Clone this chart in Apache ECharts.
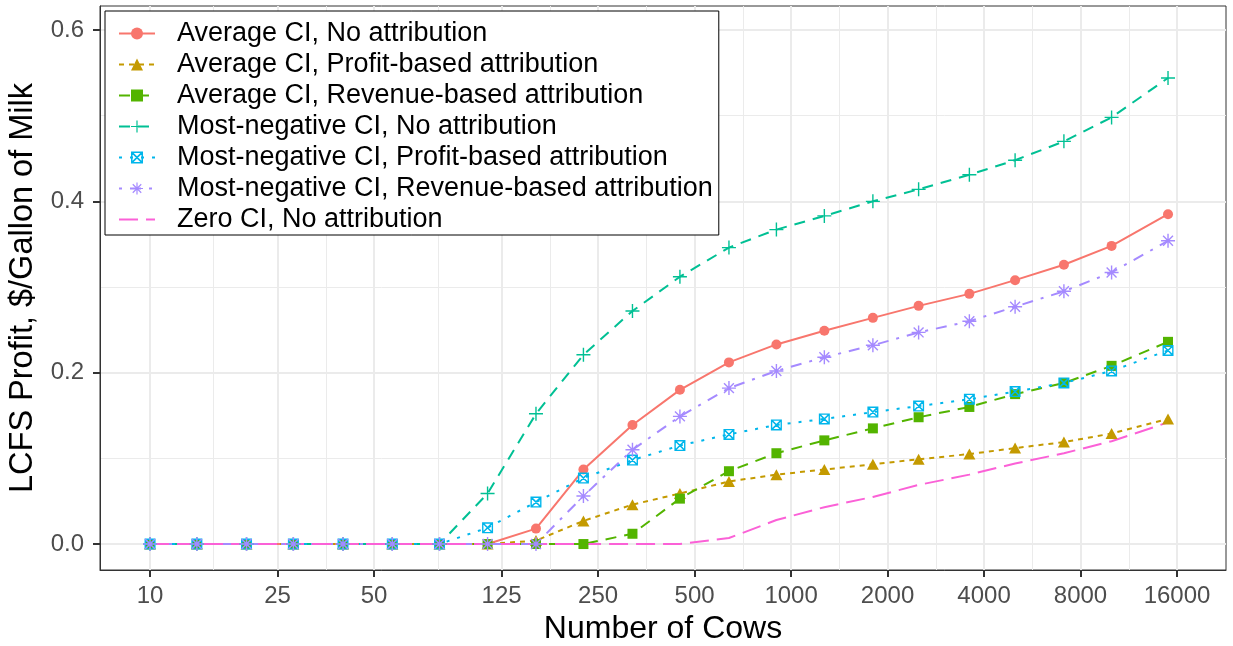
<!DOCTYPE html>
<html>
<head>
<meta charset="utf-8">
<title>LCFS Profit vs Number of Cows</title>
<script src="https://cdn.jsdelivr.net/npm/echarts@6.0.0/dist/echarts.min.js"></script>
<style>
  html, body { margin: 0; padding: 0; background: #fff; }
  #chart { width: 1233px; height: 646px; }
</style>
</head>
<body>
<div id="chart"></div>
<script>
// herd sizes on the log x axis
const cows = [10, 14, 20, 28, 40, 57, 80, 113, 160, 225, 320, 450, 640, 900, 1270, 1800, 2500, 3600, 5000, 7100, 10000, 15000];

// tick labels / gridline positions
const xTicks = [10, 25, 50, 125, 250, 500, 1000, 2000, 4000, 8000, 16000];
const xMinor = [15.8, 35.4, 79.1, 176.8, 353.6, 707.1, 1414.2, 2828.4, 5656.9, 11313.7];
const yTicks = [0, 0.2, 0.4, 0.6];
const yMinor = [0.1, 0.3, 0.5];

// $/gallon of milk
const avgNoAttr      = [0, 0, 0, 0, 0, 0, 0, 0, 0.018, 0.087, 0.139, 0.180, 0.212, 0.233, 0.249, 0.264, 0.278, 0.292, 0.308, 0.326, 0.348, 0.385];
const avgProfit      = [0, 0, 0, 0, 0, 0, 0, 0, 0.004, 0.027, 0.046, 0.059, 0.073, 0.081, 0.087, 0.093, 0.099, 0.105, 0.112, 0.119, 0.129, 0.146];
const avgRevenue     = [0, 0, 0, 0, 0, 0, 0, 0, 0, 0, 0.012, 0.053, 0.085, 0.106, 0.121, 0.135, 0.148, 0.160, 0.175, 0.188, 0.208, 0.236];
const negNoAttr      = [0, 0, 0, 0, 0, 0, 0, 0.059, 0.152, 0.221, 0.272, 0.312, 0.346, 0.367, 0.383, 0.400, 0.414, 0.431, 0.448, 0.470, 0.498, 0.544];
const negProfit      = [0, 0, 0, 0, 0, 0, 0, 0.019, 0.049, 0.077, 0.098, 0.115, 0.128, 0.139, 0.146, 0.154, 0.161, 0.169, 0.178, 0.188, 0.202, 0.226];
const negRevenue     = [0, 0, 0, 0, 0, 0, 0, 0, 0, 0.056, 0.110, 0.149, 0.182, 0.202, 0.218, 0.232, 0.247, 0.260, 0.277, 0.295, 0.317, 0.354];
const zeroNoAttr     = [0, 0, 0, 0, 0, 0, 0, 0, 0, 0, 0, 0, 0.007, 0.028, 0.043, 0.055, 0.069, 0.081, 0.094, 0.106, 0.120, 0.142];

const font = '"Liberation Sans", Arial, sans-serif';

// ggplot style point shapes, drawn as filled paths in a 12x12 box
const plusPath = 'path://M5.4,0L6.6,0L6.6,12L5.4,12ZM0,5.4L12,5.4L12,6.6L0,6.6Z';
const starPath = 'path://M5.4,0L6.6,0L6.6,12L5.4,12ZM0,5.4L12,5.4L12,6.6L0,6.6Z' +
  'M2.18,1.34L10.66,9.82L9.82,10.66L1.34,2.18ZM9.82,1.34L10.66,2.18L2.18,10.66L1.34,9.82Z';
const boxXPath = 'path://M0,0L12,0L12,1.5L0,1.5ZM0,10.5L12,10.5L12,12L0,12Z' +
  'M0,0L1.5,0L1.5,12L0,12ZM10.5,0L12,0L12,12L10.5,12Z' +
  'M0,0L1.2,0L12,10.8L12,12L10.8,12L0,1.2ZM10.8,0L12,0L12,1.2L1.2,12L0,12L0,10.8Z';

function makeSeries(name, values, color, dash, symbol, size) {
  return {
    name: name,
    type: 'line',
    data: cows.map((c, i) => [c, values[i]]),
    symbol: symbol,
    symbolSize: size,
    showSymbol: symbol !== 'none',
    lineStyle: { color: color, width: 2, type: dash },
    itemStyle: { color: color, borderWidth: 0 },
    emphasis: { disabled: true },
  };
}

function getOption() {
  const series = [
    makeSeries('Average CI, No attribution', avgNoAttr, '#F8766D', 'solid', 'circle', 10),
    makeSeries('Average CI, Profit-based attribution', avgProfit, '#C49A00', [5, 5], 'triangle', [12, 11]),
    makeSeries('Average CI, Revenue-based attribution', avgRevenue, '#53B400', [11, 8], 'rect', 10),
    makeSeries('Most-negative CI, No attribution', negNoAttr, '#00C094', [11, 8], plusPath, 14),
    makeSeries('Most-negative CI, Profit-based attribution', negProfit, '#00B6EB', [3, 8], boxXPath, 11),
    makeSeries('Most-negative CI, Revenue-based attribution', negRevenue, '#A58AFF', [3, 8, 11, 8], starPath, 14),
    makeSeries('Zero CI, No attribution', zeroNoAttr, '#FB61D7', [19, 8], 'none', 0),
  ];
  const xRange = { min: 6.98, max: 22750 };
  const yRange = { min: -0.0303, max: 0.628 };
  // the zero-CI line has no point shape in the key
  const legendData = series.map(s =>
    s.symbol === 'none' ? { name: s.name, itemStyle: { opacity: 0 } } : s.name);
  return {
    animation: false,
    backgroundColor: '#fff',
    grid: {
      left: 100, right: 7, top: 6, bottom: 76,
      show: true, borderColor: '#333', borderWidth: 1, backgroundColor: '#fff',
      outerBoundsMode: 'none',
    },
    legend: {
      orient: 'vertical',
      left: 105,
      top: 11,
      padding: [9, 6, 2, 13],
      itemWidth: 36,
      itemHeight: 15,
      itemGap: 4,
      borderColor: '#000',
      borderWidth: 1,
      backgroundColor: '#fff',
      textStyle: { fontFamily: font, fontSize: 27, color: '#000', lineHeight: 27, padding: [0, 0, 0, 17] },
      data: legendData,
    },
    xAxis: [
      {
        type: 'log', logBase: 10, ...xRange,
        axisLine: { show: true, onZero: false, lineStyle: { color: '#333', width: 1 } },
        axisTick: { show: true, length: 7, customValues: xTicks, lineStyle: { color: '#333', width: 2 } },
        axisLabel: {
          customValues: xTicks,
          formatter: v => String(Math.round(v)),
          fontFamily: font, fontSize: 24, color: '#4d4d4d', margin: 14,
        },
        splitLine: { show: true, lineStyle: { color: '#ebebeb', width: 2 } },
        name: 'Number of Cows',
        nameLocation: 'middle',
        nameGap: 42,
        nameTextStyle: { fontFamily: font, fontSize: 32, color: '#000' },
      },
      {
        // minor gridlines only
        type: 'log', logBase: 10, ...xRange,
        axisLine: { show: false, onZero: false },
        axisTick: { show: false, customValues: xMinor },
        axisLabel: { show: false },
        splitLine: { show: true, lineStyle: { color: '#ebebeb', width: 1 } },
      },
    ],
    yAxis: [
      {
        type: 'value', ...yRange,
        axisLine: { show: true, onZero: false, lineStyle: { color: '#333', width: 1 } },
        axisTick: { show: true, length: 7, customValues: yTicks, lineStyle: { color: '#333', width: 2 } },
        axisLabel: {
          customValues: yTicks,
          formatter: v => v.toFixed(1),
          fontFamily: font, fontSize: 24, color: '#4d4d4d', margin: 16,
        },
        splitLine: { show: true, lineStyle: { color: '#ebebeb', width: 2 } },
        name: 'LCFS Profit, $/Gallon of Milk',
        nameLocation: 'middle',
        nameGap: 55,
        nameTextStyle: { fontFamily: font, fontSize: 32.5, color: '#000' },
      },
      {
        type: 'value', ...yRange,
        axisLine: { show: false, onZero: false },
        axisTick: { show: false, customValues: yMinor },
        axisLabel: { show: false },
        splitLine: { show: true, lineStyle: { color: '#ebebeb', width: 1 } },
      },
    ],
    series: series,
  };
}

const chart = echarts.init(document.getElementById('chart'));
chart.setOption(getOption());
</script>
</body>
</html>
